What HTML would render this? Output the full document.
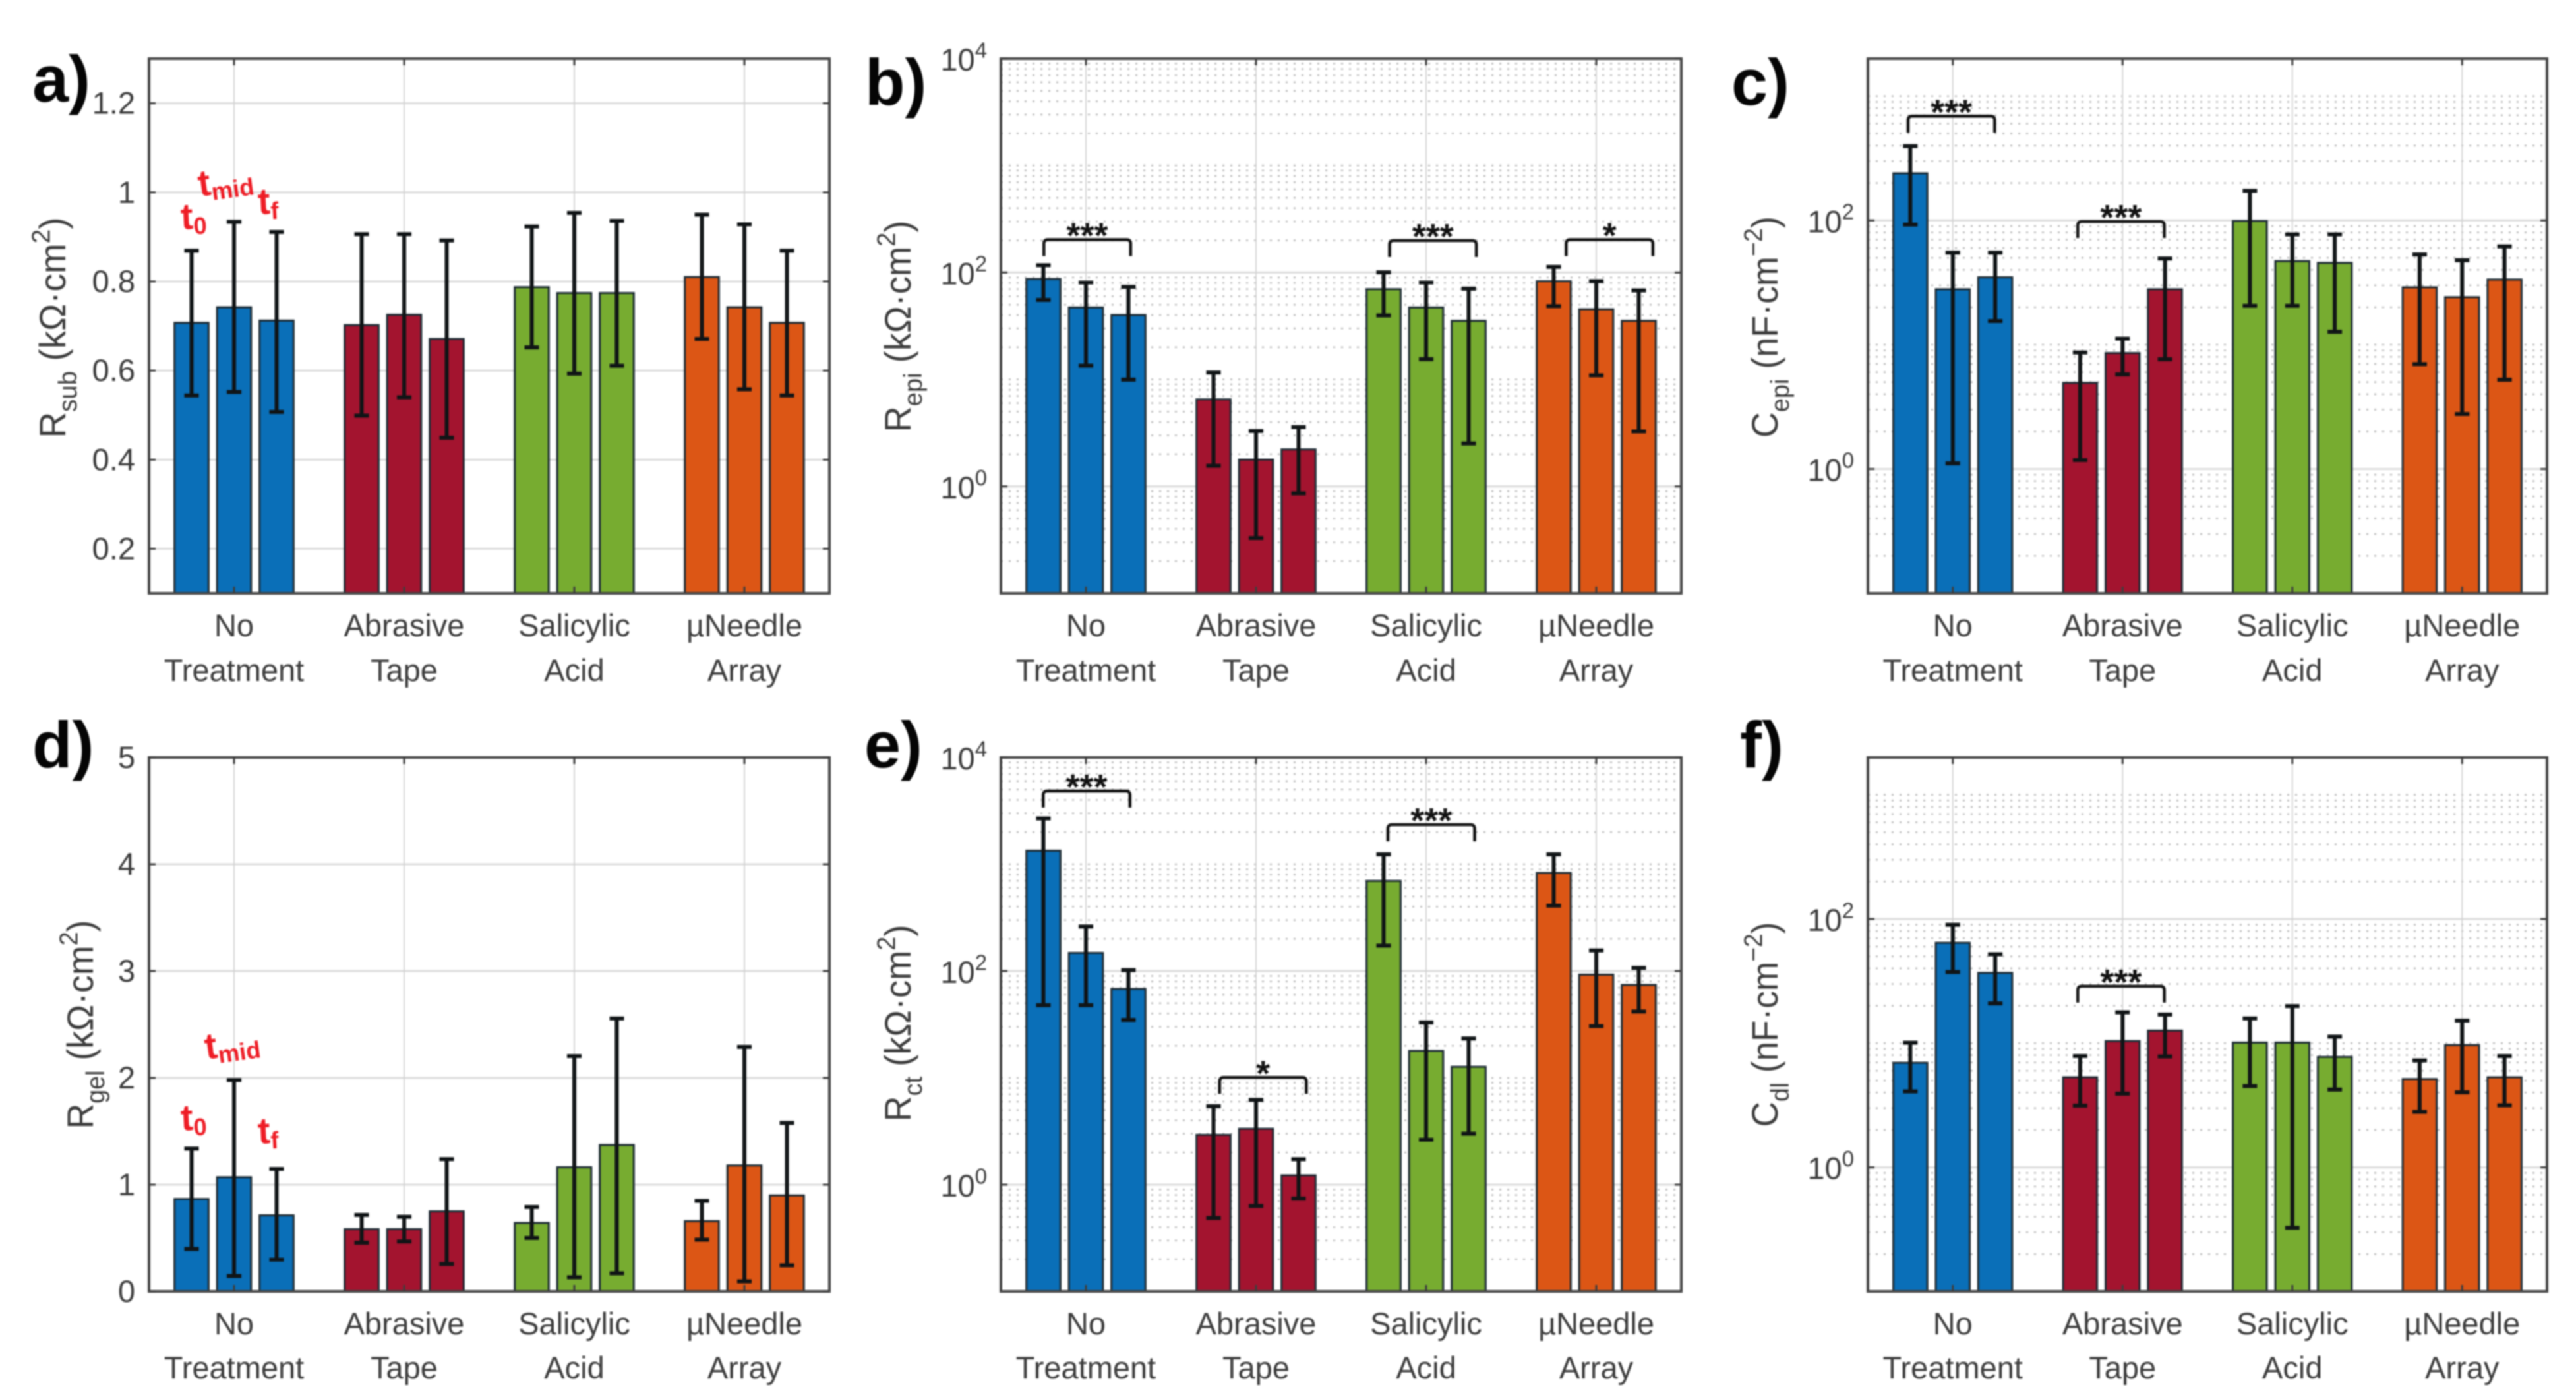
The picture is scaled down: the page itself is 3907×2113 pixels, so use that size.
<!DOCTYPE html>
<html lang="en">
<head>
<meta charset="utf-8">
<title>Skin impedance parameters by treatment</title>
<style>
html,body{margin:0;padding:0;background:#fff;}
svg{display:block;filter:blur(1.1px);}
text{font-family:"Liberation Sans",Arial,sans-serif;white-space:pre;}
</style>
</head>
<body>
<svg id="figure" xmlns="http://www.w3.org/2000/svg" width="3907" height="2113" viewBox="0 0 3907 2113">
<rect x="0" y="0" width="3907" height="2113" fill="#ffffff"></rect>
</svg>
<script>
// ---- shared categories ----
const groupLabelsTop = ["No", "Abrasive", "Salicylic", "\u00B5Needle"];
const groupLabelsBottom = ["Treatment", "Tape", "Acid", "Array"];
const groupColors = ["#0A6FB8", "#A3142F", "#77AC30", "#DC5615"];

// ---- a) Rsub ----
const rsubMeans = [0.707,0.742,0.712, 0.702,0.725,0.671, 0.787,0.774,0.774, 0.810,0.742,0.707];
const rsubUpper = [0.869,0.934,0.911, 0.906,0.906,0.892, 0.923,0.954,0.936, 0.950,0.928,0.869];
const rsubLower = [0.544,0.552,0.507, 0.499,0.540,0.449, 0.652,0.593,0.611, 0.671,0.558,0.544];
const rsubTicks = [0.2,0.4,0.6,0.8,1,1.2];
const rsubTickLabels = ["0.2","0.4","0.6","0.8","1","1.2"];
const rsubBrackets = [];
const rsubStars = [];
const rsubLevels = [];

// ---- b) Repi ----
const repiMeans = [87.1,47.1,40.0, 6.52,1.78,2.22, 69.8,47.1,35.3, 83.0,45.3,35.3];
const repiUpper = [117,80.7,73.3, 11.6,3.30,3.59, 100.6,80.7,70.5, 113,83.0,67.9];
const repiLower = [55.5,13.5,9.94, 1.56,0.329,0.859, 39.6,15.5,2.52, 48.5,10.9,3.26];
const repiTicks = [1,100,10000];
const repiTickExponents = ["0","2","4"];
const repiBrackets = [1.008,3.04,4.078];
const repiStars = ["***","***","*"];
const repiLevels = [203,199,203];

// ---- c) Cepi ----
const cepiMeans = [239,27.9,34.9, 4.93,8.57,27.9, 98.9,47.0,45.5, 28.9,24.1,33.5];
const cepiUpper = [396,55.0,55.0, 8.65,11.2,49.4, 173,77.1,77.1, 53.2,47.8,61.8];
const cepiLower = [92.5,1.11,15.5, 1.18,5.77,7.64, 20.6,20.6,12.7, 6.98,2.77,5.22];
const cepiTicks = [1,100];
const cepiTickExponents = ["0","2"];
const cepiBrackets = [0.992,1.991];
const cepiStars = ["***","***"];
const cepiLevels = [689,98];

// ---- d) Rgel ----
const rgelMeans = [0.866,1.069,0.713, 0.584,0.584,0.750, 0.642,1.164,1.371, 0.659,1.181,0.899];
const rgelUpper = [1.338,1.980,1.147, 0.717,0.700,1.239, 0.791,2.204,2.556, 0.849,2.291,1.578];
const rgelLower = [0.398,0.145,0.298, 0.456,0.468,0.257, 0.501,0.133,0.170, 0.485,0.095,0.244];
const rgelTicks = [0,1,2,3,4,5];
const rgelTickLabels = ["0","1","2","3","4","5"];
const rgelBrackets = [];
const rgelStars = [];
const rgelLevels = [];

// ---- e) Rct ----
const rctMeans = [1337,148,68.1, 2.93,3.34,1.22, 698,17.9,12.7, 830,92.5,74.2];
const rctUpper = [2680,262,102, 5.44,6.22,1.73, 1239,33.0,23.4, 1239,156,107];
const rctLower = [47.9,47.9,34.9, 0.488,0.631,0.741, 173,2.64,3.01, 409,30.5,41.9];
const rctTicks = [1,100,10000];
const rctTickExponents = ["0","2","4"];
const rctBrackets = [1.004,2.041,3.03];
const rctStars = ["***","*","***"];
const rctLevels = [4840,10.1,2345];

// ---- f) Cdl ----
const cdlMeans = [6.95,64.3,36.8, 5.31,10.4,12.6, 10.1,10.1,7.74, 5.14,9.66,5.31];
const cdlUpper = [10.1,90.0,52.0, 7.87,17.7,17.0, 15.8,19.9,11.3, 7.25,15.2,7.87];
const cdlLower = [4.08,37.4,20.9, 3.14,3.92,7.80, 4.51,0.326,4.22, 2.80,4.02,3.16];
const cdlTicks = [1,100];
const cdlTickExponents = ["0","2"];
const cdlBrackets = [1.991];
const cdlStars = ["***"];
const cdlLevels = [28.8];

// ---- layout (not data) ----
const SVGNS = "http://www.w3.org/2000/svg";
const svg = document.getElementById("figure");
const TEXT_COLOR = "#3c3c3c";
const BAR_OFFSETS = [-0.25, 0, 0.25];
const BAR_WIDTH = 0.2;
const BRACKET_HALF = 0.255;
const CAP_HALF = 11;

const columnX = [[226,1258],[1518,2550],[2833,3863]];
const rowY = [[89,900],[1149,1959]];

const panels = [
 {id:"a",letter:"a)",letterX:49,letterY:154,col:0,row:0,log:false,lim:[0.1,1.3],means:rsubMeans,upper:rsubUpper,lower:rsubLower,ticks:rsubTicks,labels:rsubTickLabels,brackets:rsubBrackets,stars:rsubStars,levels:rsubLevels,
  title:[["R",0],["sub",.3],[" (k\u03A9\u00B7cm",0],["2",-.42],[")",0]],titleX:99,titleY:497,titleLen:335},
 {id:"b",letter:"b)",letterX:1312,letterY:159,col:1,row:0,log:true,lim:[0.1,10000],means:repiMeans,upper:repiUpper,lower:repiLower,ticks:repiTicks,labels:repiTickExponents,brackets:repiBrackets,stars:repiStars,levels:repiLevels,
  title:[["R",0],["epi",.3],[" (k\u03A9\u00B7cm",0],["2",-.42],[")",0]],titleX:1381,titleY:495,titleLen:321},
 {id:"c",letter:"c)",letterX:2626,letterY:159,col:2,row:0,log:true,lim:[0.1,2000],means:cepiMeans,upper:cepiUpper,lower:cepiLower,ticks:cepiTicks,labels:cepiTickExponents,brackets:cepiBrackets,stars:cepiStars,levels:cepiLevels,
  title:[["C",0],["epi",.3],[" (nF\u00B7cm",0],["\u22122",-.42],[")",0]],titleX:2696,titleY:496,titleLen:336},
 {id:"d",letter:"d)",letterX:49,letterY:1164,col:0,row:1,log:false,lim:[0,5],means:rgelMeans,upper:rgelUpper,lower:rgelLower,ticks:rgelTicks,labels:rgelTickLabels,brackets:rgelBrackets,stars:rgelStars,levels:rgelLevels,
  title:[["R",0],["gel",.3],[" (k\u03A9\u00B7cm",0],["2",-.42],[")",0]],titleX:141,titleY:1554,titleLen:317},
 {id:"e",letter:"e)",letterX:1311,letterY:1164,col:1,row:1,log:true,lim:[0.1,10000],means:rctMeans,upper:rctUpper,lower:rctLower,ticks:rctTicks,labels:rctTickExponents,brackets:rctBrackets,stars:rctStars,levels:rctLevels,
  title:[["R",0],["ct",.3],[" (k\u03A9\u00B7cm",0],["2",-.42],[")",0]],titleX:1381,titleY:1552,titleLen:299},
 {id:"f",letter:"f)",letterX:2639,letterY:1164,col:2,row:1,log:true,lim:[0.1,2000],means:cdlMeans,upper:cdlUpper,lower:cdlLower,ticks:cdlTicks,labels:cdlTickExponents,brackets:cdlBrackets,stars:cdlStars,levels:cdlLevels,
  title:[["C",0],["dl",.3],[" (nF\u00B7cm",0],["\u22122",-.42],[")",0]],titleX:2696,titleY:1554,titleLen:311}
];

function shape(tag, attrs, parent) {
  const node = document.createElementNS(SVGNS, tag);
  for (const key in attrs) node.setAttribute(key, attrs[key]);
  parent.appendChild(node);
  return node;
}

function rich(node, parts, ratio) {
  let prev = 0;
  const scriptRatio = ratio || 0.7;
  parts.forEach(function (p) {
    const span = document.createElementNS(SVGNS, "tspan");
    span.textContent = p[0];
    const size = parseFloat(node.getAttribute("font-size"));
    const d = (p[1] - prev) * size;
    if (d !== 0) span.setAttribute("dy", d);
    if (p[1] !== 0) span.setAttribute("font-size", size * scriptRatio);
    node.appendChild(span);
    prev = p[1];
  });
}

function drawPanel(p) {
  const x0 = columnX[p.col][0], x1 = columnX[p.col][1];
  const yT = rowY[p.row][0], yB = rowY[p.row][1];
  const xScale = function (v) { return x0 + (v - 0.5) / 4 * (x1 - x0); };
  const yScale = p.log
    ? function (v) { return yB - (Math.log10(v) - Math.log10(p.lim[0])) / (Math.log10(p.lim[1]) - Math.log10(p.lim[0])) * (yB - yT); }
    : function (v) { return yB - (v - p.lim[0]) / (p.lim[1] - p.lim[0]) * (yB - yT); };

  const g = shape("g", {}, svg);
  
  

  // horizontal grid
  const grid = shape("g", {}, g);
  
  
  if (p.log) {
    const kMin = Math.round(Math.log10(p.lim[0]));
    const kMax = Math.ceil(Math.log10(p.lim[1]));
    for (let k = kMin; k < kMax; k++) {
      for (let m = 1; m < 10; m++) {
        const v = m * Math.pow(10, k);
        if (v <= p.lim[0] || v >= p.lim[1] || p.ticks.indexOf(v) >= 0) continue;
        const minor = shape("line", {x1:x0, x2:x1, y1:yScale(v), y2:yScale(v), stroke:"#bcbcbc", "stroke-width":2.6, "stroke-dasharray":"3 9"}, grid);
        
        
      }
    }
  }
  p.ticks.forEach(function (t) {
    const major = shape("line", {x1:x0, x2:x1, y1:yScale(t), y2:yScale(t), stroke:"#dcdcdc", "stroke-width":3}, grid);
    
    
  });
  for (let c = 0; c < 4; c++) {
    const vg = shape("line", {x1:xScale(c + 1), x2:xScale(c + 1), y1:yT, y2:yB, stroke:"#d2d2d2", "stroke-width":1.8}, grid);
    
    
  }

  // bars
  p.means.forEach(function (v, i) {
    const group = Math.floor(i / 3);
    const xc = xScale(group + 1 + BAR_OFFSETS[i % 3]);
    const w = xScale(1.5 + BAR_WIDTH) - xScale(1.5);
    const bar = shape("rect", {x:xc - w / 2, y:yScale(v), width:w, height:yB - yScale(v), fill:groupColors[group], stroke:"#1c2a33", "stroke-width":3}, g);
    
    
  });

  // error bars
  p.means.forEach(function (v, i) {
    const group = Math.floor(i / 3);
    const xc = xScale(group + 1 + BAR_OFFSETS[i % 3]);
    const yu = yScale(p.upper[i]), yl = yScale(p.lower[i]);
    const err = shape("path", {
      d:"M" + xc + " " + yu + "V" + yl + "M" + (xc - CAP_HALF) + " " + yu + "H" + (xc + CAP_HALF) + "M" + (xc - CAP_HALF) + " " + yl + "H" + (xc + CAP_HALF),
      fill:"none", stroke:"#101416", "stroke-width":6
    }, g);
    
    
  });

  // significance brackets
  p.brackets.forEach(function (centre, i) {
    const xa = xScale(centre - BRACKET_HALF), xb = xScale(centre + BRACKET_HALF);
    const y = yScale(p.levels[i]);
    const br = shape("path", {d:"M" + xa + " " + (y + 25) + "V" + (y + 6) + "Q" + xa + " " + y + " " + (xa + 6) + " " + y + "H" + (xb - 6) + "Q" + xb + " " + y + " " + xb + " " + (y + 6) + "V" + (y + 25), fill:"none", stroke:"#111", "stroke-width":4.5}, g);
    
    
    const st = shape("text", {x:(xa + xb) / 2, y:y + 12, "text-anchor":"middle", "font-size":54, "font-weight":"bold", fill:"#111"}, g);
    st.textContent = p.stars[i];
    
    
  });

  // axes box
  const box = shape("rect", {x:x0, y:yT, width:x1 - x0, height:yB - yT, fill:"none", stroke:"#444444", "stroke-width":4}, g);
  
  

  // ticks
  p.ticks.forEach(function (t) {
    const tk = shape("path", {d:"M" + x0 + " " + yScale(t) + "h10M" + x1 + " " + yScale(t) + "h-10", stroke:"#3e3e3e", "stroke-width":3, fill:"none"}, g);
    
    
  });
  for (let c = 0; c < 4; c++) {
    const tk = shape("path", {d:"M" + xScale(c + 1) + " " + yB + "v-10M" + xScale(c + 1) + " " + yT + "v10", stroke:"#3e3e3e", "stroke-width":3, fill:"none"}, g);
    
    
  }

  // y tick labels
  p.ticks.forEach(function (t, i) {
    const lbl = shape("text", {"text-anchor":"end", "font-size":47, fill:TEXT_COLOR, transform:"translate(" + (x0 - 21) + "," + (yScale(t) + (p.log ? 18 : 16)) + ")"}, g);
    if (p.log) {
      rich(lbl, [["10", 0], [p.labels[i], -0.42]]);
    } else {
      lbl.textContent = p.labels[i];
    }
    
    
  });

  // x tick labels
  const base1 = p.row === 0 ? 965 : 2024;
  const base2 = p.row === 0 ? 1033 : 2091;
  for (let c = 0; c < 4; c++) {
    const a = shape("text", {"text-anchor":"middle", "font-size":47, fill:TEXT_COLOR, x:xScale(c + 1), y:base1}, g);
    a.textContent = groupLabelsTop[c];
    
    
    const b = shape("text", {"text-anchor":"middle", "font-size":47, fill:TEXT_COLOR, x:xScale(c + 1), y:base2}, g);
    b.textContent = groupLabelsBottom[c];
    
    
  }

  // y-axis title: stretched along its length to the reference extent
  const title = shape("text", {"text-anchor":"start", "font-size":50, fill:TEXT_COLOR}, g);
  rich(title, p.title);
  
  
  const natural = title.getComputedTextLength();
  const along = p.titleLen / natural;
  title.setAttribute("transform", "translate(" + p.titleX + "," + (p.titleY + p.titleLen / 2) + ") rotate(-90) scale(" + along + ",1.12)");

  // panel letter
  const letter = shape("text", {x:p.letterX, y:p.letterY, "font-size":99, "font-weight":"bold", fill:"#050505"}, g);
  letter.textContent = p.letter;
  
  
}

panels.forEach(drawPanel);

// red time-point annotations
const annotationRows = [[[275,348],[303,298],[392,325]], [[275,1715],[313,1607],[392,1735]]];
const annotationSubs = ["0", "mid", "f"];
const annotationTilt = [-3, -8, -3];
annotationRows.forEach(function (row) {
  row.forEach(function (pos, i) {
    const note = shape("text", {"font-size":56, "font-weight":"bold", fill:"#EE1C25", transform:"translate(" + pos[0] + "," + pos[1] + ") rotate(" + annotationTilt[i] + ")"}, svg);
    rich(note, [["t", 0], [annotationSubs[i], 0.15]], 0.65);
    
    
  });
});
</script>
</body>
</html>
